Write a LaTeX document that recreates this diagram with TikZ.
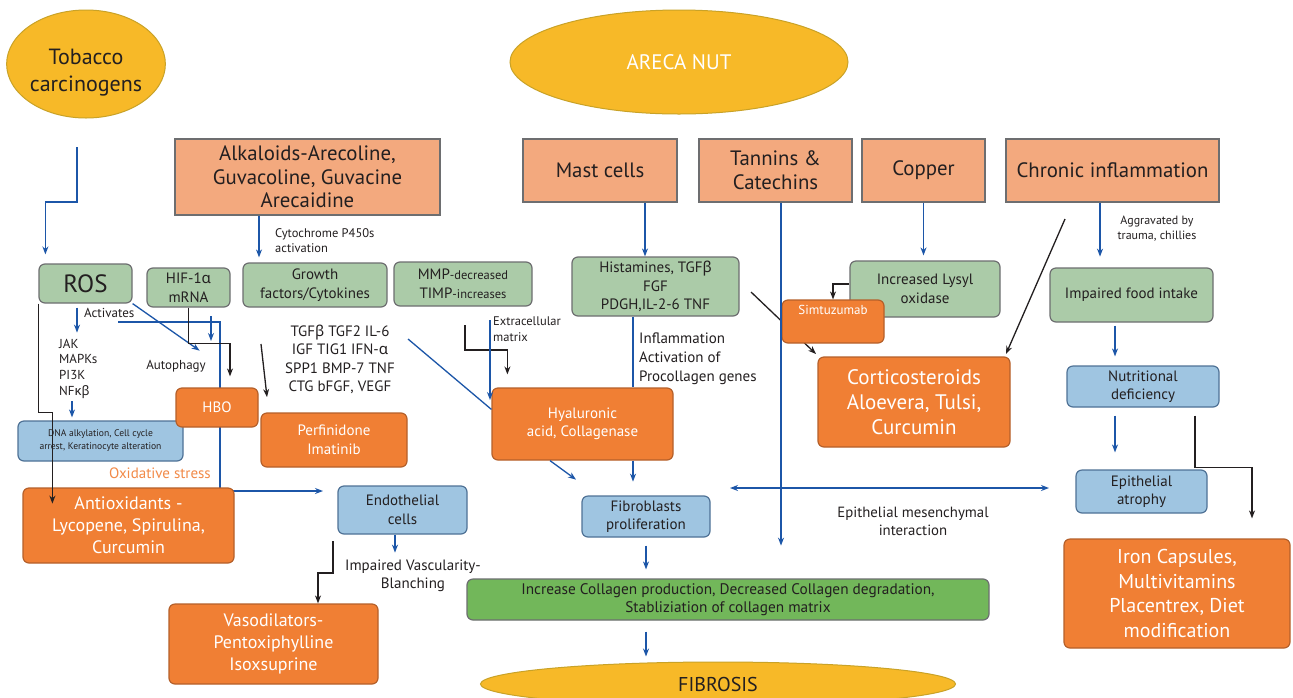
\documentclass[tikz,border=0pt]{standalone}
\usepackage{fontspec}
\setmainfont{PT Sans}
\newfontfamily\grkfont{Noto Sans}
\usetikzlibrary{shapes.geometric,arrows.meta,backgrounds}
\newcommand{\grk}[1]{{\grkfont #1}}
\definecolor{yellowfill}{HTML}{F7B928}
\definecolor{yellowdraw}{HTML}{C9A227}
\definecolor{salmon}{HTML}{F3A97E}
\definecolor{boxgray}{HTML}{6D6E70}
\definecolor{sage}{HTML}{ABCBA8}
\definecolor{skyfill}{HTML}{9FC5E1}
\definecolor{skydraw}{HTML}{4F7296}
\definecolor{orangefill}{HTML}{F07F34}
\definecolor{orangedraw}{HTML}{B5602A}
\definecolor{leaf}{HTML}{72B75A}
\definecolor{arrblue}{HTML}{1C56A8}
\definecolor{txt}{HTML}{231F20}
\definecolor{oxorange}{HTML}{F28A48}

\begin{document}
\begin{tikzpicture}[x=1pt,y=-1pt,
  every node/.style={text=txt,inner sep=0pt,align=center},
  srcbox/.style={draw=boxgray,fill=salmon,line width=1.2pt,font=\fontsize{20.8}{24}\selectfont},
  gbox/.style={draw=boxgray,fill=sage,line width=1.2pt,rounded corners=6pt,font=\fontsize{15}{18.5}\selectfont},
  bbox/.style={draw=skydraw,fill=skyfill,line width=1.2pt,rounded corners=6pt,font=\fontsize{15}{18.5}\selectfont},
  obox/.style={draw=orangedraw,fill=orangefill,line width=1.2pt,rounded corners=6pt,text=white,font=\fontsize{15}{18.5}\selectfont},
  ybox/.style={ellipse,draw=yellowdraw,fill=yellowfill,line width=1pt},
  barrow/.style={draw=arrblue,line width=1.3pt,-{Stealth[length=8pt,width=6pt]}},
  bline/.style={draw=arrblue,line width=1.3pt},
  karrow/.style={draw=txt,line width=1.3pt,-{Stealth[length=8pt,width=6pt]}}]
\useasboundingbox (0,0) rectangle (1293,697);

%Ellipses
\node[ybox,minimum width=154pt,minimum height=108pt,text height=59pt,text depth=5pt,font=\fontsize{22}{27}\selectfont] (tob) at (86,64) {Tobacco\\carcinogens};
\node[ybox,minimum width=338pt,minimum height=104pt,text=white,font=\fontsize{21}{25}\selectfont] (areca) at (679,62) {ARECA NUT};
\node[ybox,minimum width=475pt,minimum height=44pt,font=\fontsize{20}{24}\selectfont] (fibrosis) at (718,684) {FIBROSIS};

%Areca nut components
\node[srcbox,minimum width=265pt,minimum height=76pt,font=\fontsize{20.8}{23.5}\selectfont] (alk) at (307.5,177) {Alkaloids-Arecoline,\\Guvacoline, Guvacine\\Arecaidine};
\node[srcbox,minimum width=154pt,minimum height=63pt] (mast) at (600,170.5) {Mast cells};
\node[srcbox,minimum width=153pt,minimum height=63pt] (tan) at (775.5,170.5) {Tannins \&\\Catechins};
\node[srcbox,minimum width=123pt,minimum height=63pt] (cop) at (923.5,170.5) {Copper};
\node[srcbox,minimum width=213pt,minimum height=63pt] (chr) at (1112.5,170.5) {Chronic inflammation};

%Mediators
\node[gbox,minimum width=93pt,minimum height=39pt,font=\fontsize{25}{28}\selectfont] (ros) at (85.5,283.5) {ROS};
\node[gbox,minimum width=83pt,minimum height=39pt] (hif) at (188.5,287.5) {HIF-1\grk{α}\\mRNA};
\node[gbox,minimum width=144pt,minimum height=44pt] (growth) at (315,285) {Growth\\factors/Cytokines};
\node[gbox,minimum width=138pt,minimum height=44pt] (mmp) at (463,284) {MMP{\fontsize{12.5}{14}\selectfont-decreased}\\TIMP{\fontsize{12.5}{14}\selectfont-increases}};
\node[gbox,minimum width=167pt,minimum height=59pt] (hist) at (655.5,286.5) {Histamines, TGF\grk{β}\\FGF\\PDGH,IL-2-6 TNF};
\node[gbox,minimum width=150pt,minimum height=56pt] (lys) at (925,289) {Increased Lysyl\\oxidase};
\node[gbox,minimum width=163pt,minimum height=54pt] (food) at (1131.5,295) {Impaired food intake};

%Cell level
\node[bbox,minimum width=165pt,minimum height=40pt,font=\fontsize{9.6}{13}\selectfont] (dna) at (100.5,441) {DNA alkylation, Cell cycle\\arrest, Keratinocyte alteration};
\node[bbox,minimum width=129pt,minimum height=48pt] (endo) at (402.5,510) {Endothelial\\cells};
\node[bbox,minimum width=128pt,minimum height=41pt] (fib) at (646,516.5) {Fibroblasts\\proliferation};
\node[bbox,minimum width=152pt,minimum height=41pt] (nutri) at (1143,386.5) {Nutritional\\deficiency};
\node[bbox,minimum width=131pt,minimum height=43pt] (atro) at (1141.5,491.5) {Epithelial\\atrophy};

%Treatments
\node[obox,minimum width=82pt,minimum height=39pt] (hbo) at (217,407.5) {HBO};
\node[obox,minimum width=146pt,minimum height=54pt] (perf) at (334,440) {Perfinidone\\Imatinib};
\node[obox,minimum width=181pt,minimum height=72pt] (hyal) at (582.5,424) {Hyaluronic\\acid, Collagenase};
\node[obox,minimum width=102pt,minimum height=43pt,text height=9pt,text depth=24pt,font=\fontsize{13}{15}\selectfont] (simtu) at (833,321.5) {Simtuzumab};
\node[obox,minimum width=192pt,minimum height=90pt,font=\fontsize{21}{25}\selectfont] (cort) at (914,402) {Corticosteroids\\Aloevera, Tulsi,\\Curcumin};
\node[obox,minimum width=211pt,minimum height=75pt,font=\fontsize{18}{22}\selectfont] (antiox) at (128.5,525.5) {Antioxidants -\\Lycopene, Spirulina,\\Curcumin};
\node[obox,minimum width=209pt,minimum height=80pt,font=\fontsize{18}{22}\selectfont] (vaso) at (273.5,644) {Vasodilators-\\Pentoxiphylline\\Isoxsuprine};
\node[obox,minimum width=226pt,minimum height=109pt,font=\fontsize{20}{24.5}\selectfont] (iron) at (1177,593.5) {Iron Capsules,\\Multivitamins\\Placentrex, Diet\\modification};

\node[draw=boxgray,fill=leaf,line width=1.2pt,rounded corners=6pt,minimum width=522pt,minimum height=41pt,font=\fontsize{15.3}{18}\selectfont] (coll) at (728,599.5) {Increase Collagen production, Decreased Collagen degradation,\\Stabliziation of collagen matrix};

% Text Node
\node[anchor=west,align=left,font=\fontsize{12.5}{15}\selectfont] (cyto) at (275,240.5) {Cytochrome P450s\\activation};
\node[anchor=west,font=\fontsize{13}{15}\selectfont] (act) at (84,313) {Activates};
\node[anchor=west,align=left,font=\fontsize{13}{15.7}\selectfont] (kin) at (59,368.5) {JAK\\MAPKs\\PI3K\\NF\grk{κβ}};
\node[font=\fontsize{13}{15}\selectfont] (auto) at (176,366) {Autophagy};
\node[anchor=east,text=oxorange,font=\fontsize{15}{18}\selectfont] (oxid) at (211,473) {Oxidative stress};
\node[font=\fontsize{15}{18.5}\selectfont] (gfs) at (340,359.5) {TGF\grk{β} TGF2 IL-6\\IGF TIG1 IFN-\grk{α}\\SPP1 BMP-7 TNF\\CTG bFGF, VEGF};
\node[anchor=west,align=left,font=\fontsize{12.5}{16}\selectfont] (ecm) at (493,329) {Extracellular\\matrix};
\node[anchor=west,align=left,font=\fontsize{15}{19}\selectfont] (infl) at (639,359) {Inflammation\\Activation of\\Procollagen genes};
\node[font=\fontsize{12}{15}\selectfont] (aggr) at (1157,229) {Aggravated by\\trauma, chillies};
\node[font=\fontsize{14.8}{18}\selectfont] (emt) at (913,521) {Epithelial mesenchymal\\interaction};
\node[font=\fontsize{15}{18}\selectfont] (vasc) at (413,576) {Impaired Vascularity-\\Blanching};

% free ends
\coordinate (tobstart) at (77,147);
\coordinate (oxs) at (118,322);
\coordinate (oxe) at (323,491);
\coordinate (hifa) at (211,316);
\coordinate (gfa) at (261,344);
\coordinate (gfb) at (408,339);
\coordinate (mmpa) at (465,325);
\coordinate (ecma) at (490,320);
\coordinate (vasa) at (333,541);
\coordinate (emtl) at (730,488);
\coordinate (emtr) at (1049,488);
\coordinate (hc) at (751,292);
\coordinate (cc) at (1065,219);

%lines that go behind boxes
\begin{scope}[on background layer]
\fill[white] (0,0) rectangle (1293,697);
\draw[barrow] (oxs) -- ++(102,0) |- (oxe);
\draw[karrow] (hc) -- ++(65,62);
\end{scope}

%Connectors
\draw[barrow,shorten >=9pt] (tobstart) -- ++(0,55) -| ([xshift=7pt]ros.north west);
\draw[barrow,shorten >=5pt] ([xshift=-48.5pt]alk.south) -- ([xshift=-48.5pt]alk.south |- growth.north);
\draw[barrow] ([xshift=-8.5pt]ros.south) ++(0,4) -- ++(0,25);
\draw[barrow] ([xshift=-28.5pt]dna.north) ++(0,-19) -- ++(0,16);
\draw[karrow] (ros.south west) -- ++(0,109) -- ++(14,0) -- ++(0,91);
\draw[barrow] (ros.south east) -- ++(67,47);
\draw[karrow,shorten >=11pt] (hif.south) -- ++(0,36) -| ([xshift=13pt]hbo.north);
\draw[barrow] (hifa) -- ++(0,25);
\draw[karrow] (gfa) -- ++(6,53);
\draw[bline] (gfb) -- ([yshift=-22pt]hyal.north west);
\draw[karrow,shorten >=13pt] (mmpa) -- ++(0,25) -| ([xshift=16pt]hyal.north west);
\draw[barrow] (ecma) -- ++(0,80);
\draw[bline] ([xshift=-22.5pt]hist.south) -- ([xshift=-22.5pt]hist.south |- hyal.north);
\draw[barrow] ([xshift=50.5pt]hyal.south) -- ++(0,21);
\draw[barrow] ([xshift=-32.5pt]hyal.south) -- ++(26,19);
\draw[barrow,shorten <=8pt,shorten >=9pt] (fib.south) -- (fib.south |- coll.north);
\draw[barrow,shorten <=11pt,shorten >=5pt] (fib.south |- coll.south) -- (fib.south |- fibrosis.north);
\draw[barrow] ([xshift=-7.5pt]endo.south) -- ++(0,18);
\draw[karrow] (vasa) -- ++(0,32) -| ([xshift=44.5pt]vaso.north);
\draw[barrow] ([xshift=45pt]mast.south) -- ([xshift=45pt]mast.south |- hist.north);
\draw[barrow] ([xshift=5.5pt]tan.south) -- ++(0,343);
\draw[barrow,{Stealth[length=8pt,width=6pt]}-{Stealth[length=8pt,width=6pt]}] (emtl) -- (emtr);
\draw[barrow,shorten >=5pt] (cop.south) -- (cop.south |- lys.north);
\draw[barrow] ([xshift=-12.5pt]chr.south) -- ++(0,54);
\draw[karrow] ([yshift=5pt]lys.west) -| (simtu.north);
\draw[karrow] (cc) -- ++(-59,135);
\draw[barrow,shorten <=3pt,shorten >=9pt] ([xshift=-28pt]nutri.north |- food.south) -- ([xshift=-28pt]nutri.north);
\draw[barrow,shorten <=8pt,shorten >=17pt] ([xshift=-28pt]nutri.south) -- ([xshift=-28pt]nutri.south |- atro.north);
\draw[karrow,shorten <=8pt,shorten >=20pt] ([xshift=52pt]nutri.south) -- ++(0,60) -| ([xshift=75pt]iron.north);

\end{tikzpicture}
\end{document}
